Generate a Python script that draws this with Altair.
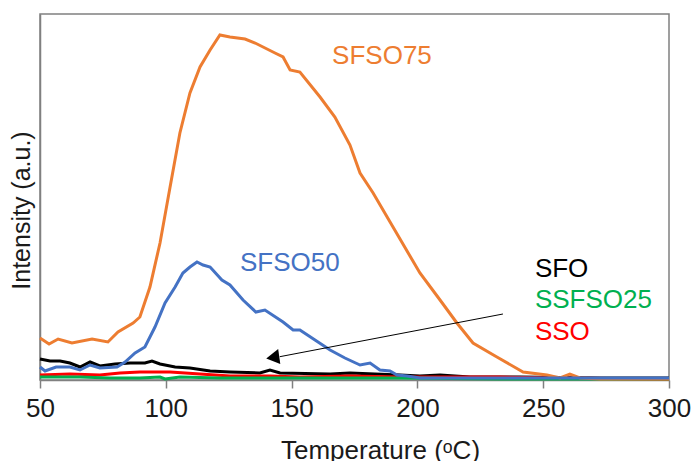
import altair as alt
import pandas as pd

# ---- data ----
sfso75_t = [50.0, 53.6, 57.2, 62.7, 70.7, 77.0, 81.0, 87.0, 89.7, 93.7, 97.7, 101.7, 105.6, 109.6,
            113.6, 117.6, 121.5, 125.5, 131.5, 135.5, 143.4, 146.6, 149.4, 153.3, 161.3, 167.2,
            173.2, 177.2, 182.4, 190.3, 201.0, 209.0, 215.7, 222.1, 231.6, 242.0, 251.5, 256.7,
            260.6, 264.6, 272.6, 300.0]
sfso75_v = [42, 36, 41, 37, 41, 38, 48, 57, 63, 93, 137, 193, 247, 287,
            313, 330, 345, 343, 341, 337, 327, 323, 310, 308, 283, 263,
            235, 207, 187, 153, 107, 80, 57, 37, 23, 8, 5, 2,
            6, 2, 1, 1]

sfso50_t = [50.0, 52.0, 56.4, 61.9, 65.9, 69.9, 73.8, 80.6, 83.8, 87.8, 91.7, 95.7, 99.7, 103.7,
            106.8, 109.6, 112.4, 114.8, 117.6, 122.3, 125.5, 130.7, 135.8, 139.4, 146.6, 150.6,
            153.3, 159.3, 165.3, 171.2, 177.2, 181.2, 185.1, 189.1, 191.9, 195.9, 201.0, 300.0]
sfso50_v = [13, 9, 13, 13, 10, 15, 12, 13, 18, 27, 33, 53, 77, 93,
            107, 113, 118, 115, 113, 100, 95, 80, 68, 70, 58, 50,
            50, 40, 30, 22, 15, 17, 10, 9, 5, 4, 2, 2]

sfo_t = [50.0, 54.0, 58.0, 61.9, 65.9, 69.9, 73.8, 79.8, 85.8, 91.7, 94.5, 97.7, 103.7, 109.6,
         117.6, 125.5, 137.4, 141.4, 145.4, 165.3, 173.2, 183.1, 193.1, 201.0, 209.0, 220.9,
         240.8, 272.6, 300.0]
sfo_v = [21, 19, 19, 17, 13, 18, 14, 16, 17, 17, 19, 16, 13, 12,
         9, 8, 7, 10, 7, 6, 7, 6, 5, 4, 5, 3,
         3, 2, 2]

sso_t = [50.0, 61.9, 73.8, 81.8, 89.7, 101.7, 113.6, 125.5, 141.4, 153.3, 173.2, 193.1, 213.0,
         232.8, 252.7, 300.0]
sso_v = [5, 6, 5, 7, 8, 8, 6, 4, 4, 3, 4, 3, 3, 3, 2, 1]

ssfso25_t = [50.0, 65.9, 77.8, 89.7, 97.7, 99.7, 105.6, 121.5, 153.3, 193.1, 232.8, 300.0]
ssfso25_v = [3, 3, 2, 2, 3, 1, 3, 2, 2, 2, 1, 1]

series_names = ["SFO", "SSO", "SSFSO25", "SFSO75", "SFSO50"]
series_colors = ["#000000", "#FF0000", "#00B050", "#ED7D31", "#4472C4"]

label_text = ["SFSO75", "SFSO50", "SFO", "SSFSO25", "SSO"]
label_t = [166.1, 129.5, 246.7, 246.7, 246.7]
label_v = [324, 117, 111, 80, 48]
label_colors = ["#ED7D31", "#4472C4", "#000000", "#00B050", "#FF0000"]

arrow_t = [234.0, 145.3]
arrow_v = [66, 23.3]
arrow_head_t = [142.5]
arrow_head_v = [22.5]

# ---- build tables ----
data = {
    "SFO": (sfo_t, sfo_v),
    "SSO": (sso_t, sso_v),
    "SSFSO25": (ssfso25_t, ssfso25_v),
    "SFSO75": (sfso75_t, sfso75_v),
    "SFSO50": (sfso50_t, sfso50_v),
}

x_scale = alt.Scale(domain=[50, 300], nice=False, zero=False)
y_scale = alt.Scale(domain=[0, 366], nice=False)

x_axis = alt.Axis(values=[50, 100, 150, 200, 250, 300], title="Temperature (ᵒC)",
                  grid=False, tickSize=8, tickColor="#808080", domainColor="#808080",
                  domainWidth=1.5, tickWidth=1.5, labelFontSize=26, labelColor="#1a1a1a",
                  labelPadding=7, titleFontSize=26, titleFontWeight="normal", titleColor="#1a1a1a",
                  titleX=340, titleY=78, titleBaseline="alphabetic", labelFlush=False)
y_axis = alt.Axis(labels=False, ticks=False, grid=False, title="Intensity (a.u.)",
                  domainColor="#808080", domainWidth=1.5, titleFontSize=25,
                  titleFontWeight="normal", titleColor="#1a1a1a", titlePadding=6,
                  titleY=196, titleAlign="center")

X = alt.X("T:Q", scale=x_scale, axis=x_axis)
Y = alt.Y("I:Q", scale=y_scale, axis=y_axis)

layers = []
for name, color in zip(series_names, series_colors):
    t, v = data[name]
    df = pd.DataFrame({"T": t, "I": v})
    ch = alt.Chart(df).mark_line(color=color, strokeWidth=3).encode(x=X, y=Y)
    layers.append(ch)

lab_df = pd.DataFrame({"T": label_t, "I": label_v, "txt": label_text, "c": label_colors})
labels = alt.Chart(lab_df).mark_text(align="left", baseline="middle", fontSize=26,
                                     font="Liberation Sans").encode(
    x=X, y=Y,
    text="txt:N",
    color=alt.Color("c:N", scale=None),
)

arr_df = pd.DataFrame({"T": arrow_t, "I": arrow_v})
arrow_line = alt.Chart(arr_df).mark_line(color="#000000", strokeWidth=1).encode(x=X, y=Y)
head_df = pd.DataFrame({"T": arrow_head_t, "I": arrow_head_v})
arrow_head = alt.Chart(head_df).mark_point(shape="triangle-up", filled=True, color="#000000",
                                           size=230, angle=262, opacity=1).encode(x=X, y=Y)

chart = alt.layer(*layers, arrow_line, arrow_head, labels).properties(
    width=629, height=366,
    autosize=alt.AutoSizeParams(type="none"),
    padding={"left": 40, "top": 14, "right": 25, "bottom": 81},
).configure(
    font="Liberation Sans", background="white"
).configure_view(stroke="#808080", strokeWidth=1.5)

chart.save("out.html", embed_options={"renderer": "svg", "actions": False})
